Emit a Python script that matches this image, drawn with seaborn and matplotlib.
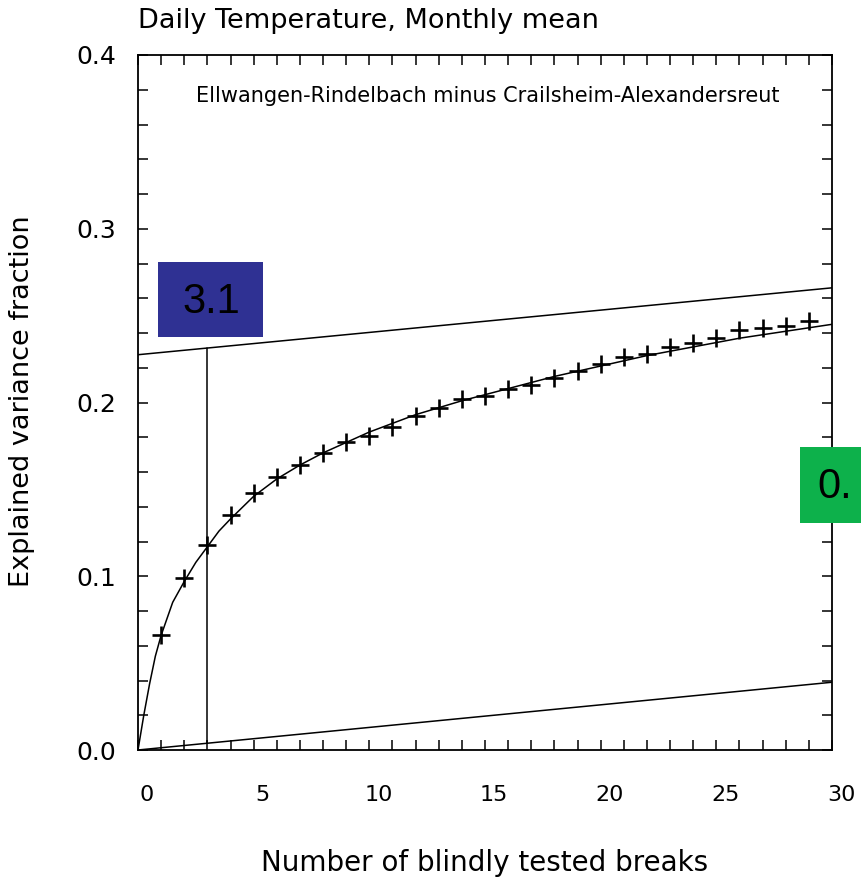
import matplotlib
matplotlib.use('Agg')
import matplotlib.pyplot as plt
import matplotlib.transforms as mtransforms
from matplotlib.patches import Rectangle
from matplotlib.ticker import MultipleLocator
import seaborn as sns
import pandas as pd

sns.set_style("ticks")
plt.rcParams['font.family'] = ['DejaVu Sans']
plt.rcParams['text.color'] = 'black'
plt.rcParams['xtick.color'] = 'black'
plt.rcParams['ytick.color'] = 'black'

# tested breaks vs explained variance fraction (the + marks)
breaks = list(range(1, 30))
explained = [0.066, 0.099, 0.118, 0.135, 0.148, 0.157, 0.164, 0.171, 0.177, 0.181,
             0.186, 0.192, 0.197, 0.202, 0.204, 0.208, 0.210, 0.214, 0.218, 0.222,
             0.226, 0.228, 0.232, 0.234, 0.237, 0.242, 0.243, 0.244, 0.247]

# fitted curve
curve_x = [0, 0.1, 0.25, 0.5, 0.75, 1, 1.5, 2, 2.5, 3, 3.5, 4, 5, 6, 7, 8, 9, 10,
           12, 14, 16, 18, 20, 22, 24, 26, 28, 30]
curve_y = [0.0, 0.008, 0.020, 0.038, 0.054, 0.066, 0.085, 0.097, 0.108, 0.117, 0.126,
           0.133, 0.146, 0.156, 0.164, 0.171, 0.177, 0.183, 0.193, 0.201, 0.208,
           0.215, 0.221, 0.227, 0.232, 0.237, 0.241, 0.245]

# straight reference lines
upper_x = [0, 30]
upper_y = [0.2275, 0.266]
lower_x = [0, 30]
lower_y = [0.0, 0.039]
mark_x = [3, 3]
mark_y = [0.004, 0.2314]

x_ticks = [0, 5, 10, 15, 20, 25, 30]
y_ticks = [0.0, 0.1, 0.2, 0.3, 0.4]
y_ticklabels = ["0.0", "0.1", "0.2", "0.3", "0.4"]

title = "Daily Temperature, Monthly mean"
subtitle = "Ellwangen-Rindelbach minus Crailsheim-Alexandersreut"
xlabel = "Number of blindly tested breaks"
ylabel = "Explained variance fraction"
blue_label = "3.1"
green_label = "0."

W, H = 861, 881
fig = plt.figure(figsize=(W / 100, H / 100), dpi=100)
ax = fig.add_axes([138 / W, 1 - 750 / H, (832 - 138) / W, (750 - 55) / H])

lw = 1.1
for xs, ys in [(curve_x, curve_y), (upper_x, upper_y), (lower_x, lower_y), (mark_x, mark_y)]:
    df = pd.DataFrame({"x": xs, "y": ys})
    sns.lineplot(data=df, x="x", y="y", ax=ax, color="black", linewidth=lw,
                 sort=False, estimator=None)

pts = pd.DataFrame({"n": breaks, "v": explained})
sns.scatterplot(data=pts, x="n", y="v", ax=ax, marker="+", s=160, color="black",
                linewidth=1.9, zorder=5)

ax.set_xlim(0, 30)
ax.set_ylim(0, 0.4)
ax.set_xticks(x_ticks, [str(v) for v in x_ticks])
ax.set_yticks(y_ticks, y_ticklabels)
ax.xaxis.set_minor_locator(MultipleLocator(1))
ax.yaxis.set_minor_locator(MultipleLocator(0.02))
ax.tick_params(which="both", direction="in", top=True, right=True, length=7,
               width=1.1, color="black")
ax.tick_params(axis="x", pad=25, labelsize=16)
ax.tick_params(axis="y", pad=16, labelsize=18)
offset = mtransforms.ScaledTranslation(9 / 100, 0, fig.dpi_scale_trans)
for lab in ax.get_xticklabels():
    lab.set_transform(lab.get_transform() + offset)
for side in ax.spines.values():
    side.set_linewidth(1.3)
    side.set_color("black")
ax.set_xlabel("")
ax.set_ylabel("")

ax.text(0.504, 0.941, subtitle, transform=ax.transAxes, ha="center", va="center",
        fontsize=15)
fig.text(138 / W, 1 - 21 / H, title, ha="left", va="center", fontsize=19.5)
fig.text(485 / W, 1 - 863 / H, xlabel, ha="center", va="center", fontsize=20)
fig.text(22 / W, 1 - 401 / H, ylabel, ha="center", va="center", rotation=90,
         fontsize=19.5)

# overlay boxes
fig.add_artist(Rectangle((158 / W, 1 - 337 / H), 105 / W, 75 / H,
                         transform=fig.transFigure, facecolor="#2f3193",
                         edgecolor="none", zorder=10))
fig.text(211 / W, 1 - 302 / H, blue_label, ha="center", va="center",
         fontsize=30, family="Liberation Sans", color="black", zorder=11)
fig.add_artist(Rectangle((800 / W, 1 - 523 / H), 61 / W, 76 / H,
                         transform=fig.transFigure, facecolor="#0db14b",
                         edgecolor="none", zorder=10))
fig.text(817 / W, 1 - 487 / H, green_label, ha="left", va="center",
         fontsize=30, family="Liberation Sans", color="black", zorder=11)

fig.savefig("out.png", dpi=100)
